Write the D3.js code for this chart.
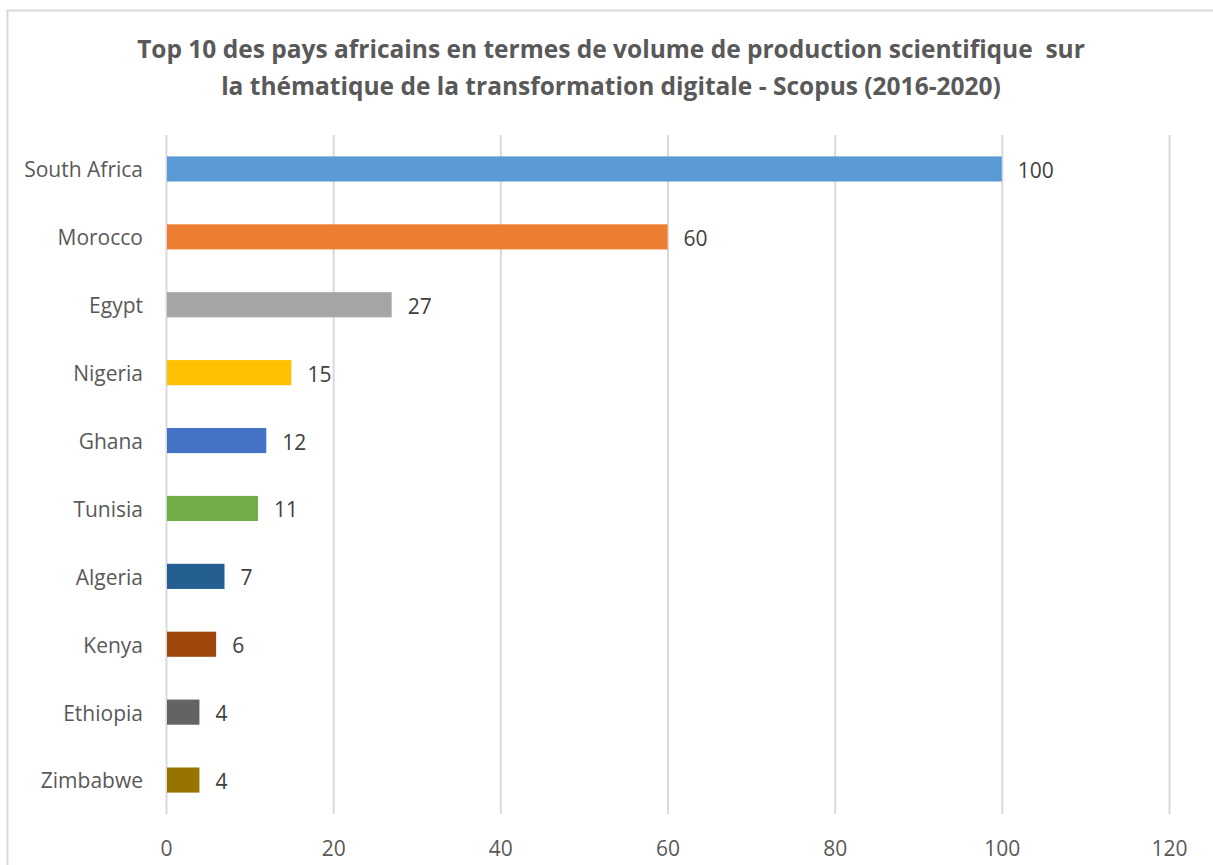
<!DOCTYPE html>
<html>
    <head>
        <style>
            body { margin: 0; background: #fff; }
            .cat { font-family: "Open Sans", sans-serif; font-size: 21px; fill: #595959; }
            .val { font-family: "Open Sans", sans-serif; font-size: 21px; fill: #404040; }
            .title { font-family: "Open Sans", sans-serif; font-size: 24.5px; font-weight: bold; fill: #595959; text-anchor: middle; white-space: pre; }
            .grid .domain { stroke-width: 0; }
            .grid .tick line { stroke: #d9d9d9; stroke-width: 2; }
            .xaxis .domain, .xaxis .tick line { stroke-width: 0; }
            .xaxis text { font-family: "Open Sans", sans-serif; font-size: 21px; fill: #595959; }
        </style>
    </head>
    <body>
        <svg width="1213" height="865"></svg>
        <script src="https://d3js.org/d3.v7.min.js"></script>
        <script>
        // data
        var countries = ["South Africa", "Morocco", "Egypt", "Nigeria", "Ghana", "Tunisia", "Algeria", "Kenya", "Ethiopia", "Zimbabwe"];
        var values = [100, 60, 27, 15, 12, 11, 7, 6, 4, 4];
        var colors = ["#5B9BD5", "#ED7D31", "#A5A5A5", "#FFC000", "#4472C4", "#70AD47", "#255E91", "#9E480E", "#636363", "#997300"];
        var xTicks = [0, 20, 40, 60, 80, 100, 120];
        var titleLines = ["Top 10 des pays africains en termes de volume de production scientifique  sur",
                          "la thématique de la transformation digitale - Scopus (2016-2020)"];

        var svg = d3.select("svg"),
            margin = {top: 135, right: 44, bottom: 51, left: 166},
            width = +svg.attr("width") - margin.left - margin.right,
            height = +svg.attr("height") - margin.top - margin.bottom;

        // outer border of chart area
        svg.append("rect")
            .attr("x", 7.5).attr("y", 10.5)
            .attr("width", 1220).attr("height", 880)
            .attr("fill", "none")
            .attr("stroke", "#d9d9d9")
            .attr("stroke-width", 2);

        svg.selectAll("text.title")
            .data(titleLines)
            .enter().append("text")
            .attr("class", "title")
            .attr("x", 611)
            .attr("y", function(d, i) { return 58 + i * 37; })
            .text(function(d) { return d; });

        var g = svg.append("g").attr("transform", "translate(" + margin.left + "," + margin.top + ")");

        var x = d3.scaleLinear().domain([0, 120]).range([0, 1003]);
        var y = d3.scaleBand().domain(countries).range([0, height]).paddingInner(0.63).paddingOuter(0.315);

        g.append("g")
            .attr("class", "grid")
            .call(d3.axisBottom(x).tickValues(xTicks).tickSize(height).tickFormat(""));

        g.append("g")
            .attr("class", "xaxis")
            .attr("transform", "translate(0," + height + ")")
            .call(d3.axisBottom(x).tickValues(xTicks).tickSize(0).tickPadding(27));

        g.selectAll("rect.bar")
            .data(values)
            .enter().append("rect")
            .attr("class", "bar")
            .attr("x", 1)
            .attr("y", function(d, i) { return y(countries[i]); })
            .attr("width", function(d) { return x(d) - 1; })
            .attr("height", y.bandwidth())
            .attr("fill", function(d, i) { return colors[i]; });

        g.selectAll("text.val")
            .data(values)
            .enter().append("text")
            .attr("class", "val")
            .attr("x", function(d) { return x(d) + 16; })
            .attr("y", function(d, i) { return y(countries[i]) + y.bandwidth() / 2; })
            .attr("dy", "0.43em")
            .text(function(d) { return d; });

        g.selectAll("text.cat")
            .data(countries)
            .enter().append("text")
            .attr("class", "cat")
            .attr("x", -23)
            .attr("y", function(d) { return y(d) + y.bandwidth() / 2; })
            .attr("dy", "0.4em")
            .attr("text-anchor", "end")
            .text(function(d) { return d; });
        </script>
    </body>
</html>
